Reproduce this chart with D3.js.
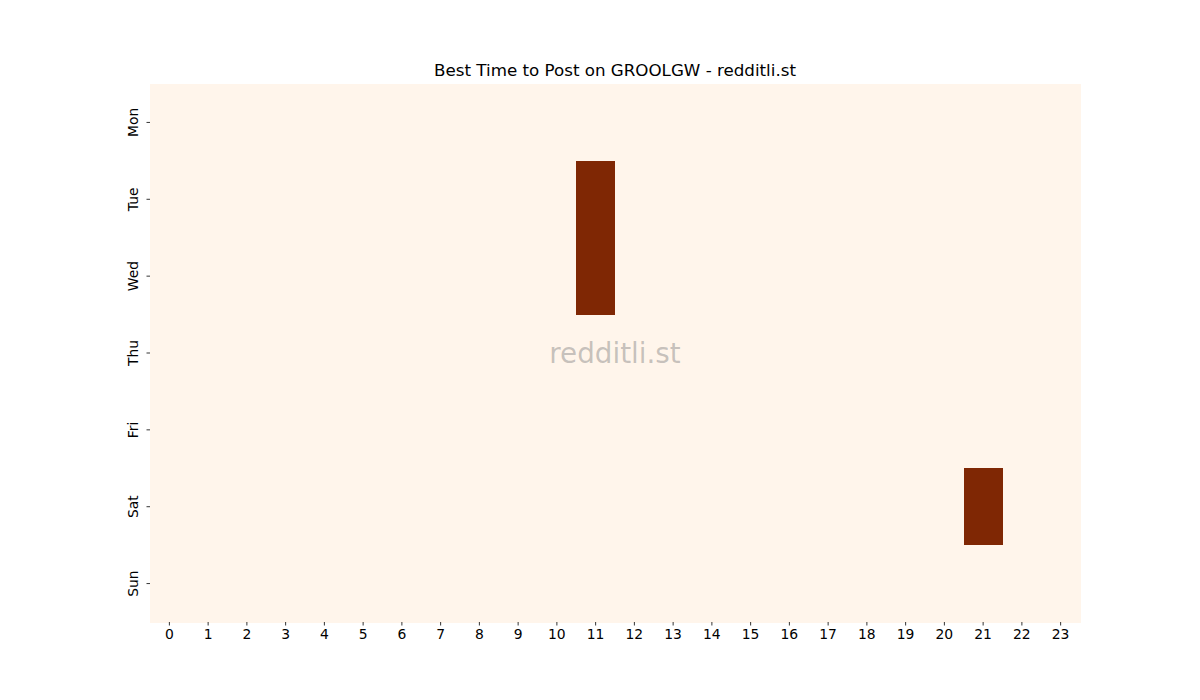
<!DOCTYPE html>
<html>
<head>
<meta charset="utf-8">
<script src="https://cdn.jsdelivr.net/npm/d3@7"></script>
<style>
  body { margin: 0; background: #fff; }
  svg { font-family: "DejaVu Sans", sans-serif; }
</style>
</head>
<body>
<svg id="chart" width="1200" height="700"></svg>
<script>
// дни недели (строки) и часы (столбцы)
var days = ['Mon', 'Tue', 'Wed', 'Thu', 'Fri', 'Sat', 'Sun'];
var hours = d3.range(24);
// количество постов: [день, час, значение], остальные клетки = 0
var posts = [
    ['Tue', 11, 1],
    ['Wed', 11, 1],
    ['Sat', 21, 1]
];
var title = 'Best Time to Post on GROOLGW - redditli.st';
var watermark = 'redditli.st';

var margin = {left: 150, top: 84, right: 120, bottom: 78};
var W = 1200, H = 700;

var svg = d3.select('#chart');

var x = d3.scaleBand().domain(hours).range([margin.left, W - margin.right]).padding(0);
var y = d3.scaleBand().domain(days).range([margin.top, H - margin.bottom]).padding(0);

var maxVal = d3.max(posts, d => d[2]);
var color = d3.scaleSequential(d3.interpolateOranges).domain([0, maxVal]);

/*Заполнение всей сетки*/
var cells = [];
days.forEach(function(d) {
    hours.forEach(function(h) {
        var p = posts.find(e => e[0] == d && e[1] == h);
        cells.push({day: d, hour: h, value: p ? p[2] : 0});
    });
});

svg.append('g').selectAll('rect')
    .data(cells)
    .enter().append('rect')
        .attr('x', d => x(d.hour))
        .attr('y', d => y(d.day))
        .attr('width', x.bandwidth() + 0.5)
        .attr('height', y.bandwidth() + 0.5)
        .attr('fill', d => color(d.value))
        .attr('shape-rendering', 'crispEdges');

// оси
var xAxis = svg.append('g')
    .attr('transform', 'translate(0,' + (H - margin.bottom) + ')')
    .call(d3.axisBottom(x).tickSize(3.5).tickPadding(3.5));
var yAxis = svg.append('g')
    .attr('transform', 'translate(' + margin.left + ',0)')
    .call(d3.axisLeft(y).tickSize(3.5).tickPadding(3.5));

[xAxis, yAxis].forEach(function(a) {
    a.select('.domain').remove();
    a.selectAll('.tick line').attr('stroke', '#000').attr('stroke-width', 0.8);
    a.selectAll('.tick text')
        .attr('fill', '#000')
        .style('font-size', '13.9px')
        .style('font-family', '"DejaVu Sans", sans-serif');
});

yAxis.selectAll('.tick text')
    .attr('text-anchor', 'middle')
    .attr('dy', null)
    .attr('x', null)
    .attr('transform', 'translate(-17,0) rotate(-90)')
    .attr('dominant-baseline', 'central');

svg.append('text')
    .attr('x', (margin.left + W - margin.right) / 2)
    .attr('y', margin.top - 8)
    .attr('text-anchor', 'middle')
    .style('font-size', '16.7px')
    .text(title);

svg.append('text')
    .attr('x', (margin.left + W - margin.right) / 2)
    .attr('y', (margin.top + H - margin.bottom) / 2)
    .attr('text-anchor', 'middle')
    .attr('dominant-baseline', 'central')
    .attr('fill', '#808080')
    .attr('fill-opacity', 0.45)
    .style('font-size', '27.8px')
    .text(watermark);
</script>
</body>
</html>
